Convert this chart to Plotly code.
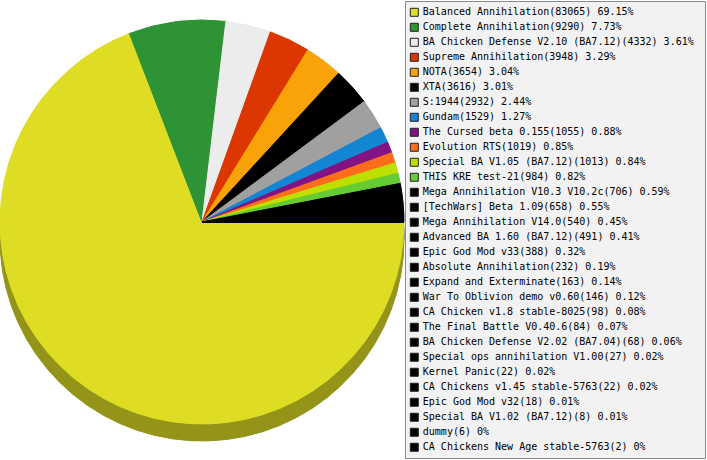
import plotly.graph_objects as go

# mods and how many games each had
names = ['Balanced Annihilation', 'Complete Annihilation', 'BA Chicken Defense V2.10 (BA7.12)',
         'Supreme Annihilation', 'NOTA', 'XTA', 'S:1944', 'Gundam', 'The Cursed beta 0.155',
         'Evolution RTS', 'Special BA V1.05 (BA7.12)', 'THIS KRE test-21',
         'Mega Annihilation V10.3 V10.2c', '[TechWars] Beta 1.09', 'Mega Annihilation V14.0',
         'Advanced BA 1.60 (BA7.12)', 'Epic God Mod v33', 'Absolute Annihilation',
         'Expand and Exterminate', 'War To Oblivion demo v0.60', 'CA Chicken v1.8 stable-8025',
         'The Final Battle V0.40.6', 'BA Chicken Defense V2.02 (BA7.04)',
         'Special ops annihilation V1.00', 'Kernel Panic', 'CA Chickens v1.45 stable-5763',
         'Epic God Mod v32', 'Special BA V1.02 (BA7.12)', 'dummy', 'CA Chickens New Age stable-5763']
counts = [83065, 9290, 4332, 3948, 3654, 3616, 2932, 1529, 1055, 1019, 1013, 984, 706, 658, 540,
          491, 388, 232, 163, 146, 98, 84, 68, 27, 22, 22, 18, 8, 6, 2]
pcts = ['69.15', '7.73', '3.61', '3.29', '3.04', '3.01', '2.44', '1.27', '0.88', '0.85', '0.84',
        '0.82', '0.59', '0.55', '0.45', '0.41', '0.32', '0.19', '0.14', '0.12', '0.08', '0.07',
        '0.06', '0.02', '0.02', '0.02', '0.01', '0.01', '0', '0']
colors = ['#dedd24', '#2d9335', '#ececec', '#dc3700', '#f9a308', '#000000', '#a0a0a0', '#1285d3',
          '#831383', '#fe6e1a', '#bde000', '#66cc33'] + ['#000000'] * 18

labels = [f'{n}({c}) {p}%' for n, c, p in zip(names, counts, pcts)]


def darker(hexcol, f=0.67):
    r, g, b = (int(hexcol[i:i + 2], 16) for i in (1, 3, 5))
    return '#%02x%02x%02x' % (int(r * f), int(g * f), int(b * f))


W, H = 707, 460
cx, cy, r, depth = 202, 222, 202, 17
shadow = [darker(c) for c in colors]

fig = go.Figure()

# side of the "3d" pie: same pie, darker, pushed down a bit
fig.add_trace(go.Pie(
    labels=names, values=counts, sort=False, direction='clockwise', rotation=90,
    marker=dict(colors=shadow, line=dict(width=1, color=shadow)),
    textinfo='none', hoverinfo='skip', showlegend=False,
    domain=dict(x=[(cx - r) / W, (cx + r) / W],
                y=[1 - (cy + depth + r) / H, 1 - (cy + depth - r) / H]),
))

fig.add_trace(go.Pie(
    labels=names, values=counts, sort=False, direction='clockwise', rotation=90,
    marker=dict(colors=colors, line=dict(width=1, color=colors)),
    textinfo='none', hovertemplate='%{label}: %{value}<extra></extra>', showlegend=False,
    domain=dict(x=[(cx - r) / W, (cx + r) / W],
                y=[1 - (cy + r) / H, 1 - (cy - r) / H]),
))

# legend drawn by hand so all 30 rows fit
rows = list(range(len(labels)))
fig.add_trace(go.Scatter(
    x=[0] * len(labels), y=rows, mode='markers',
    marker=dict(symbol='square', size=8, color=colors, line=dict(width=1, color='#222222')),
    cliponaxis=False, showlegend=False, hoverinfo='skip',
))
fig.add_trace(go.Scatter(
    x=[8.5] * len(labels), y=rows, mode='text', text=labels, textposition='middle right',
    textfont=dict(family='DejaVu Sans Mono', size=10, color='black'),
    cliponaxis=False, showlegend=False, hoverinfo='skip',
))

fig.add_shape(type='rect', xref='paper', yref='paper',
              x0=405.5 / W, x1=705.5 / W, y0=1 - 458.5 / H, y1=1 - 1.5 / H,
              fillcolor='#f2f2f2', line=dict(color='#8a8a8a', width=1), layer='below')

fig.update_layout(
    width=W, height=H,
    margin=dict(l=0, r=0, t=0, b=0),
    paper_bgcolor='white', plot_bgcolor='rgba(0,0,0,0)',
    xaxis=dict(range=[-414.3, W - 414.3], visible=False, fixedrange=True),
    yaxis=dict(range=[29.85, -0.82], visible=False, fixedrange=True),
)

fig.write_html('out.html', config={'displayModeBar': False},
               post_script="document.body.style.margin='0';")
